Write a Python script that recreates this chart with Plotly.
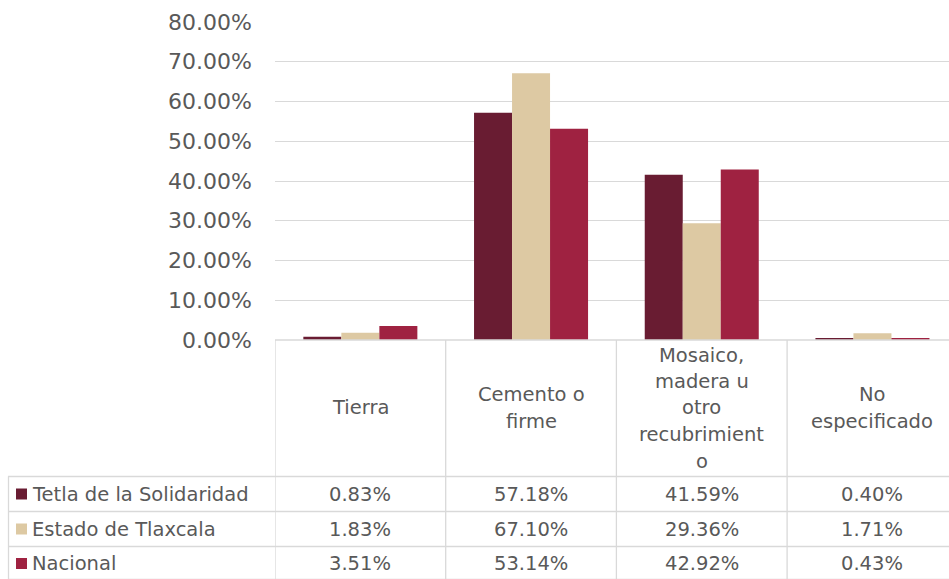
import plotly.graph_objects as go

categories = ["Tierra", "Cemento o firme", "Mosaico, madera u otro recubrimiento", "No especificado"]
header_lines = [["Tierra"], ["Cemento o", "firme"], ["Mosaico,", "madera u", "otro", "recubrimient", "o"], ["No", "especificado"]]
series_names = ["Tetla de la Solidaridad", "Estado de Tlaxcala", "Nacional"]
tetla = [0.83, 57.18, 41.59, 0.40]
tlaxcala = [1.83, 67.10, 29.36, 1.71]
nacional = [3.51, 53.14, 42.92, 0.43]
series_values = [tetla, tlaxcala, nacional]
colors = ["#691C32", "#DDC9A3", "#9F2241"]
y_ticks = [0, 10, 20, 30, 40, 50, 60, 70, 80]
y_ticktext = [f"{v:.2f}%" for v in y_ticks]

W, H = 949, 579
FONT = "DejaVu Sans"
TXT = "#595959"
GRID = "#D9D9D9"
FS = 19.5

def py(p):
    return 1 - p / H

def px(p):
    return p / W

plot_left, col_w = 275, 170.7
x_hi = -0.5 + (W - plot_left) / col_w

fig = go.Figure()
xs = list(range(len(categories)))
for name, vals, c in zip(series_names, series_values, colors):
    fig.add_trace(go.Bar(x=xs, y=vals, name=name, marker=dict(color=c, line=dict(width=0)),
                         showlegend=False, hoverinfo="skip"))

shapes = []
line = dict(color=GRID, width=1.3)
shapes.append(dict(type="line", xref="paper", yref="paper", x0=px(plot_left), x1=1, y0=py(340), y1=py(340), line=line))
for yy in [476.5, 511.5, 546.5, 579.5]:
    shapes.append(dict(type="line", xref="paper", yref="paper", x0=px(8), x1=1, y0=py(yy), y1=py(yy), line=line))
shapes.append(dict(type="line", xref="paper", yref="paper", x0=px(8.5), x1=px(8.5), y0=py(476.5), y1=-0.01, line=line))
for i in range(len(categories) + 1):
    shapes.append(dict(type="line", xref="x", yref="paper", x0=i - 0.5, x1=i - 0.5, y0=py(340), y1=-0.01, line=line))

annotations = []
pitch = 26.5
for i, lines in enumerate(header_lines):
    n = len(lines)
    for k, t in enumerate(lines):
        yc = 408 + (k - (n - 1) / 2) * pitch
        annotations.append(dict(x=i, y=py(yc), xref="x", yref="paper", text=t, showarrow=False,
                                xanchor="center", yanchor="middle", font=dict(family=FONT, size=FS, color=TXT)))
row_y = [494, 529, 563.5]
for r, (name, vals, c) in enumerate(zip(series_names, series_values, colors)):
    shapes.append(dict(type="rect", xref="paper", yref="paper", x0=px(16), x1=px(27),
                       y0=py(row_y[r] + 5.5), y1=py(row_y[r] - 5.5), fillcolor=c, line=dict(width=0)))
    annotations.append(dict(x=px(30), y=py(row_y[r]), xref="paper", yref="paper", text=name, showarrow=False,
                            xanchor="left", yanchor="middle", font=dict(family=FONT, size=FS, color=TXT)))
    for i, v in enumerate(vals):
        annotations.append(dict(x=i, y=py(row_y[r]), xref="x", yref="paper", text=f"{v:.2f}%", showarrow=False,
                                xanchor="center", yanchor="middle", font=dict(family=FONT, size=FS, color=TXT)))

fig.update_layout(
    width=W, height=H, margin=dict(l=0, r=0, t=0, b=0, pad=0),
    paper_bgcolor="white", plot_bgcolor="white",
    barmode="group", bargap=0.332, bargroupgap=0,
    xaxis=dict(domain=[px(plot_left), 1], range=[-0.5, x_hi], visible=False, automargin=False),
    yaxis=dict(domain=[py(340), py(22)], range=[0, 80], tickvals=y_ticks, ticktext=y_ticktext,
               showgrid=True, gridcolor=GRID, gridwidth=1.3, automargin=False,
               zeroline=False, showline=False, ticks="", ticklabelstandoff=22,
               tickfont=dict(family=FONT, size=22, color=TXT)),
    shapes=shapes, annotations=annotations, showlegend=False,
)

fig.write_html("out.html", config={"displayModeBar": False},
               post_script="document.body.style.margin='0';document.body.style.overflow='hidden';")
